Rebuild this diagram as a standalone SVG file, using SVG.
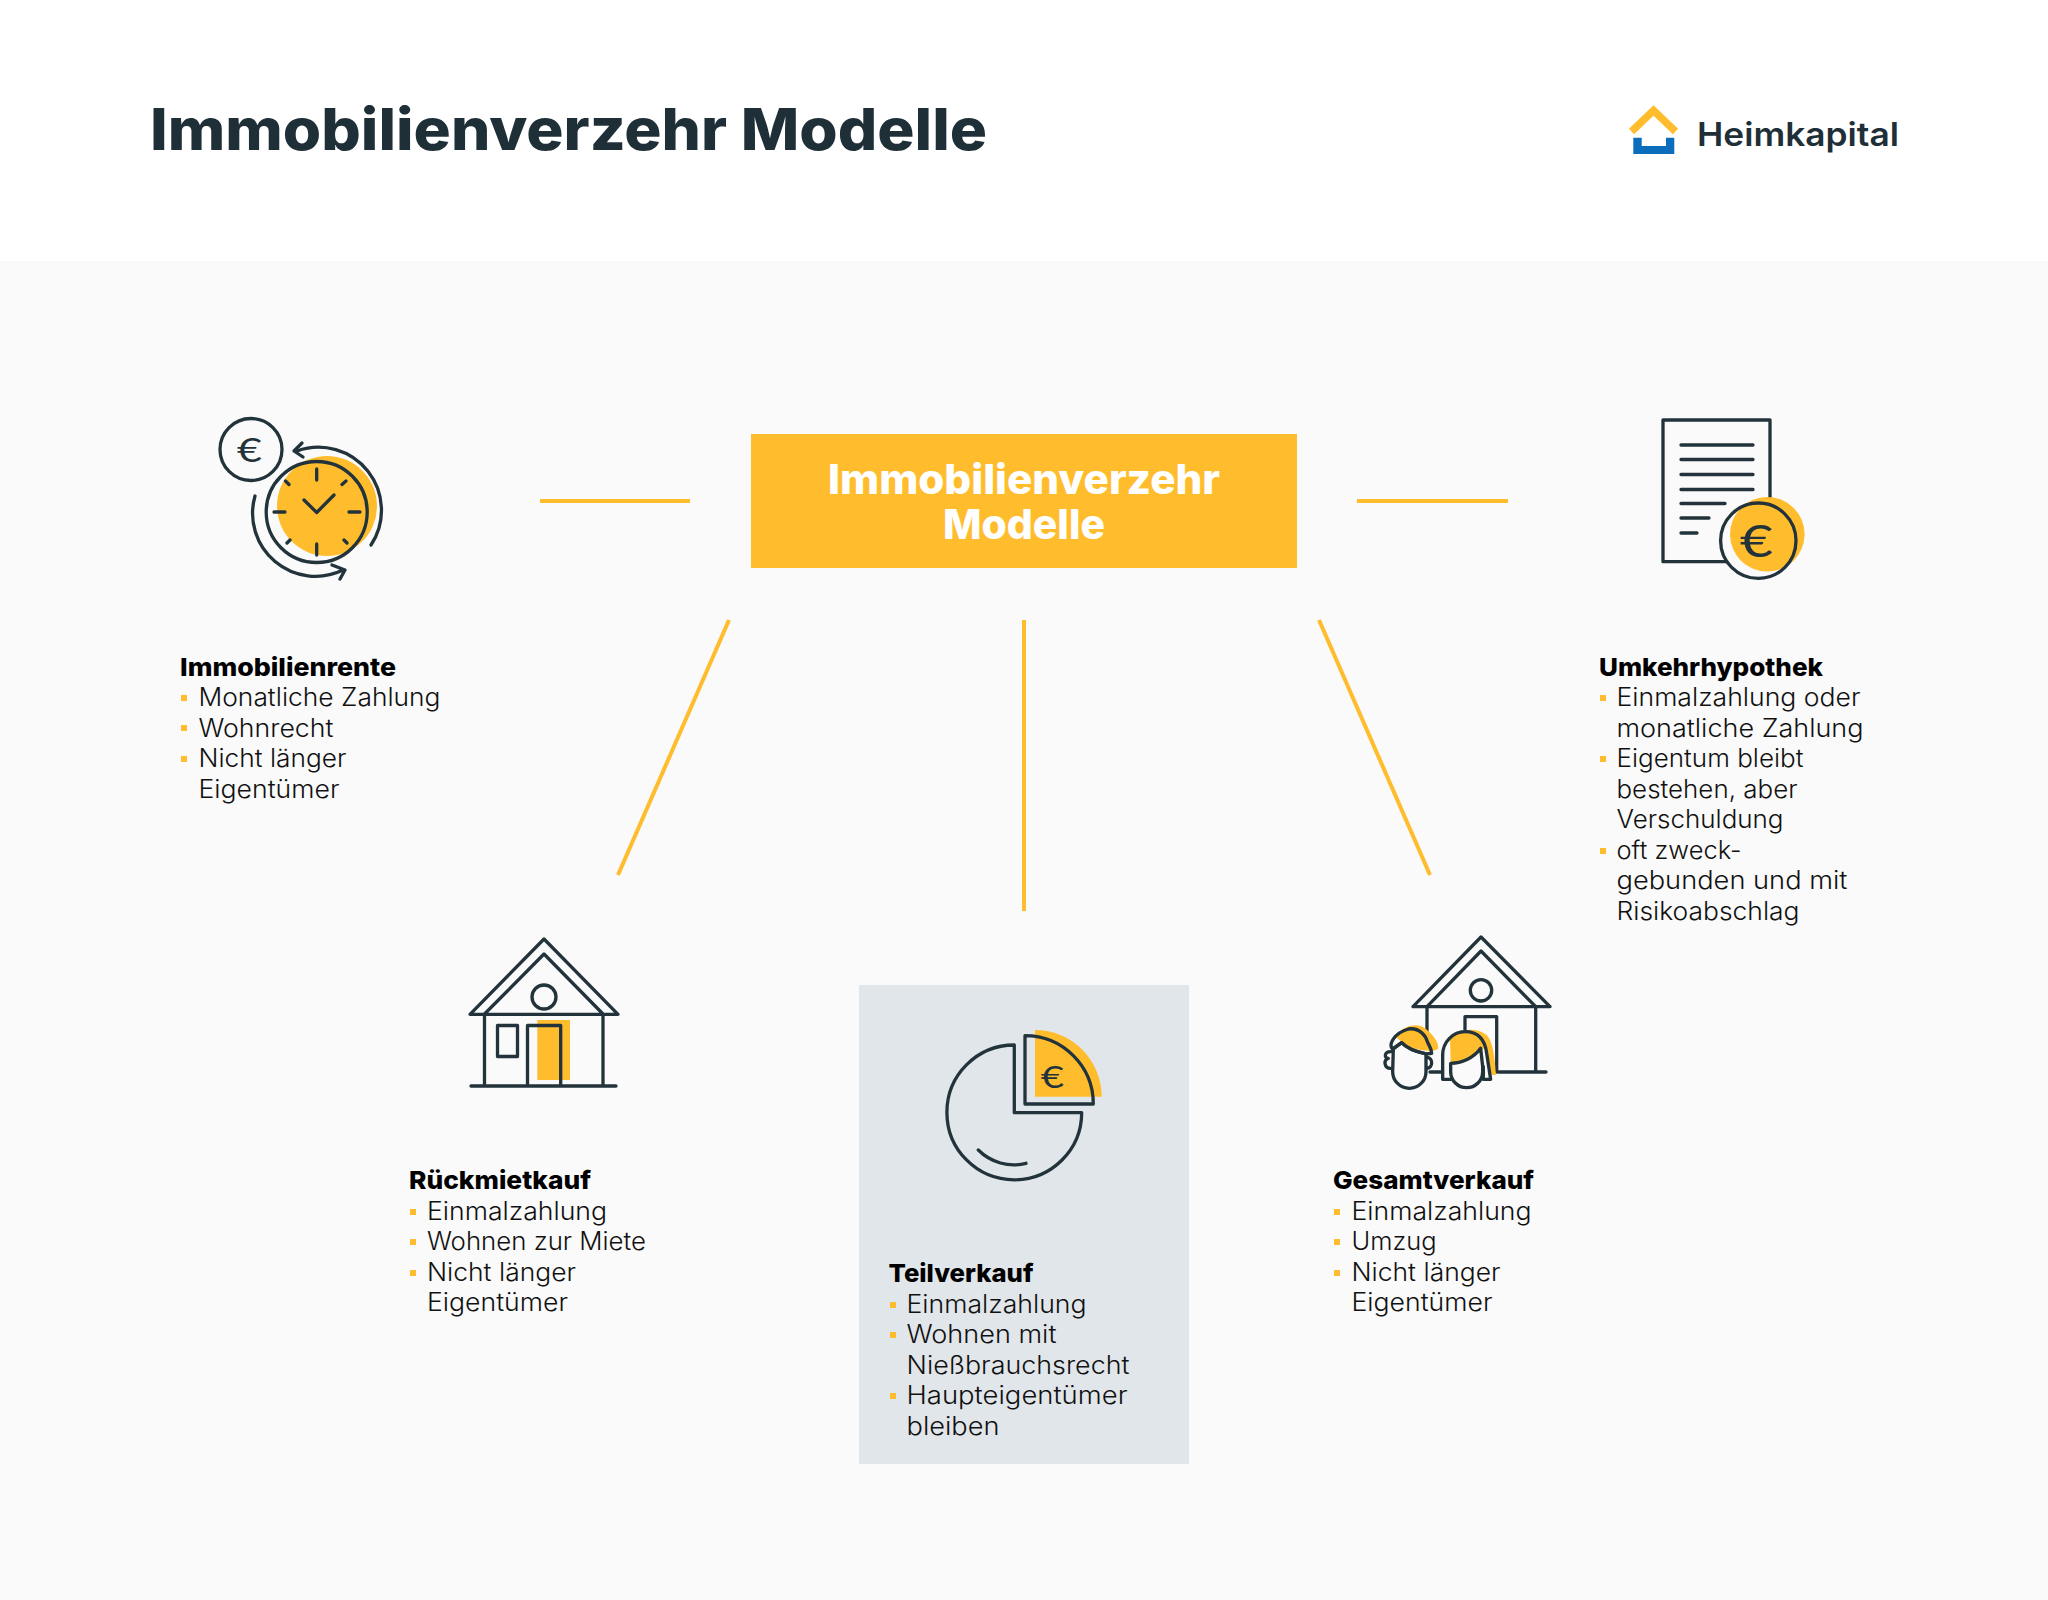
<svg xmlns="http://www.w3.org/2000/svg" width="2048" height="1600" viewBox="0 0 2048 1600">
<style>
text{font-family:"Inter","Liberation Sans",sans-serif;fill:#111}
.h{font-size:25px;font-weight:800;fill:#000}
.b{font-size:25px;font-weight:300}
.t{font-size:58px;font-weight:800;fill:#1f2f38}
.w{font-size:41px;font-weight:800;fill:#fff;text-anchor:middle}
.l{font-size:33px;font-weight:600;fill:#1f2f38}
.e{font-family:"Lato","Liberation Sans",sans-serif;fill:#22333b;text-anchor:middle}
.i{fill:none;stroke:#22333b;stroke-width:3.3;stroke-linecap:round;stroke-linejoin:round}
.p{stroke:#22333b;stroke-width:10;stroke-linejoin:round;stroke-linecap:round}
.y{fill:#ffbd2e}
.c{fill:none;stroke:#ffbd2e;stroke-width:4}
</style>
<defs><rect id="bu" x="-3" y="-3" width="6" height="6" fill="#ffbd2e"/></defs>
<rect width="2048" height="1600" fill="#fff"/>
<rect y="261" width="2048" height="1339" fill="#fafafa"/>
<g id="title"><text class="t" x="150" y="150" textLength="837" lengthAdjust="spacingAndGlyphs">Immobilienverzehr Modelle</text></g>
<g id="logo">
<path d="M1631.500 131.500L1653.500 110.500L1675.500 131.500" fill="none" stroke="#ffbd2e" stroke-width="7.500"/>
<path d="M1633.300 137.700H1641.700V146H1666V137.700H1674.300V154H1633.300Z" fill="#0a6ebd"/>
<text class="l" x="1697" y="146" textLength="202" lengthAdjust="spacingAndGlyphs">Heimkapital</text>
</g>
<g id="connectors">
<line class="c" x1="540" y1="501" x2="690" y2="501"/>
<line class="c" x1="1357" y1="501" x2="1508" y2="501"/>
<line class="c" x1="729" y1="620" x2="618" y2="875"/>
<line class="c" x1="1024" y1="620" x2="1024" y2="911"/>
<line class="c" x1="1319" y1="620" x2="1430" y2="875"/>
</g>
<g id="center">
<rect x="751" y="434" width="546" height="134" fill="#ffbd2e"/>
<text class="w" x="1024" y="494" textLength="392" lengthAdjust="spacingAndGlyphs">Immobilienverzehr</text>
<text class="w" x="1024" y="539" textLength="162" lengthAdjust="spacingAndGlyphs">Modelle</text>
</g>
<g id="immobilienrente">
<circle class="y" cx="327" cy="506" r="50"/>
<circle class="i" cx="251" cy="449.500" r="31"/>
<text class="e" transform="translate(249.500 462) scale(1.3 1)" font-size="33">€</text>
<circle class="i" cx="316.700" cy="512" r="50.500"/>
<path class="i" d="M316.700 469V480M316.700 544V555M274 512H285M349 512H360M285.500 481L289 484.500M346 481L342 484.500M287 543L290 540M344 540L347 543M304 500L316.700 512.500L334 495"/>
<path class="i" d="M297 451A63 63 0 0 1 371 545"/>
<path class="i" d="M302 443L294 451L303 457"/>
<path class="i" d="M255 496A63 63 0 0 0 343 570M332 565L345 570L340 579"/>
<text class="h" x="180" y="676" textLength="216" lengthAdjust="spacingAndGlyphs">Immobilienrente</text>
<use href="#bu" x="184" y="698"/><text class="b" x="198.500" y="706" textLength="242" lengthAdjust="spacingAndGlyphs">Monatliche Zahlung</text>
<use href="#bu" x="184" y="728"/><text class="b" x="198.500" y="737" textLength="135" lengthAdjust="spacingAndGlyphs">Wohnrecht</text>
<use href="#bu" x="184" y="759"/><text class="b" x="198.500" y="767" textLength="148" lengthAdjust="spacingAndGlyphs">Nicht länger</text>
<text class="b" x="198.500" y="798" textLength="141" lengthAdjust="spacingAndGlyphs">Eigentümer</text>
</g>
<g id="umkehrhypothek">
<path class="i" d="M1770 503V420H1663V561.700H1727"/>
<path class="i" d="M1681 445H1753M1681 459.500H1753M1681 474.500H1753M1681 489.500H1753M1681 503.500H1725M1681 518H1709M1681 533H1697"/>
<circle class="y" cx="1767.300" cy="534.300" r="37.300"/>
<circle class="i" cx="1758.300" cy="540.700" r="37.700"/>
<text class="e" transform="translate(1756.500 557) scale(1.3 1)" font-size="44">€</text>
<text class="h" x="1599" y="676" textLength="224" lengthAdjust="spacingAndGlyphs">Umkehrhypothek</text>
<use href="#bu" x="1603" y="698"/><text class="b" x="1616.500" y="706" textLength="244" lengthAdjust="spacingAndGlyphs">Einmalzahlung oder</text>
<text class="b" x="1616.500" y="737" textLength="247" lengthAdjust="spacingAndGlyphs">monatliche Zahlung</text>
<use href="#bu" x="1603" y="759"/><text class="b" x="1616.500" y="767" textLength="187" lengthAdjust="spacingAndGlyphs">Eigentum bleibt</text>
<text class="b" x="1616.500" y="798" textLength="181" lengthAdjust="spacingAndGlyphs">bestehen, aber</text>
<text class="b" x="1616.500" y="828" textLength="167" lengthAdjust="spacingAndGlyphs">Verschuldung</text>
<use href="#bu" x="1603" y="851"/><text class="b" x="1616.500" y="859" textLength="125" lengthAdjust="spacingAndGlyphs">oft zweck-</text>
<text class="b" x="1616.500" y="889" textLength="231" lengthAdjust="spacingAndGlyphs">gebunden und mit</text>
<text class="b" x="1616.500" y="920" textLength="183" lengthAdjust="spacingAndGlyphs">Risikoabschlag</text>
</g>
<g id="rueckmietkauf">
<rect class="y" x="537.300" y="1020" width="32.700" height="60"/>
<path class="i" d="M470 1014.300L544 939L618 1014.300ZM484.500 1014L544 954L603 1014M484.500 1014V1086M603 1014V1086M471 1086H616M527.500 1086V1025.500H560.700V1086"/>
<rect class="i" x="497.500" y="1025.500" width="20" height="31"/>
<circle class="i" cx="544" cy="997" r="12"/>
<text class="h" x="409" y="1189" textLength="182" lengthAdjust="spacingAndGlyphs">Rückmietkauf</text>
<use href="#bu" x="413" y="1212"/><text class="b" x="427" y="1220" textLength="180" lengthAdjust="spacingAndGlyphs">Einmalzahlung</text>
<use href="#bu" x="413" y="1242"/><text class="b" x="427" y="1250" textLength="219" lengthAdjust="spacingAndGlyphs">Wohnen zur Miete</text>
<use href="#bu" x="413" y="1273"/><text class="b" x="427" y="1281" textLength="149" lengthAdjust="spacingAndGlyphs">Nicht länger</text>
<text class="b" x="427" y="1311" textLength="141" lengthAdjust="spacingAndGlyphs">Eigentümer</text>
</g>
<g id="teilverkauf">
<rect x="859" y="985" width="330" height="479" fill="#e1e6ea"/>
<path class="y" d="M1035 1030A66.700 66.700 0 0 1 1101.700 1096.700H1035Z"/>
<path class="i" d="M1014.300 1045V1112.700H1081.700A67.400 67.400 0 1 1 1014.300 1045Z"/>
<path class="i" d="M978.300 1150A50 50 0 0 0 1026 1163.300"/>
<path class="i" d="M1025 1104V1035.700A68.300 68.300 0 0 1 1093.300 1104Z"/>
<text class="e" transform="translate(1052.500 1087.500) scale(1.3 1)" font-size="31">€</text>
<text class="h" x="888.500" y="1282" textLength="145" lengthAdjust="spacingAndGlyphs">Teilverkauf</text>
<use href="#bu" x="893" y="1305"/><text class="b" x="906.500" y="1313" textLength="180" lengthAdjust="spacingAndGlyphs">Einmalzahlung</text>
<use href="#bu" x="893" y="1335"/><text class="b" x="906.500" y="1343" textLength="150" lengthAdjust="spacingAndGlyphs">Wohnen mit</text>
<text class="b" x="906.500" y="1374" textLength="223" lengthAdjust="spacingAndGlyphs">Nießbrauchsrecht</text>
<use href="#bu" x="893" y="1396"/><text class="b" x="906.500" y="1404" textLength="221" lengthAdjust="spacingAndGlyphs">Haupteigentümer</text>
<text class="b" x="906.500" y="1435" textLength="93" lengthAdjust="spacingAndGlyphs">bleiben</text>
</g>
<g id="gesamtverkauf">
<path class="i" d="M1413 1006.700L1481 937L1550 1006.700ZM1427 1006.700L1481 951L1535.700 1006.700M1427 1006.700V1040M1535.700 1006.700V1072M1430 1072H1441.700M1498 1072H1546M1465 1030V1016.700H1496.700V1072"/>
<circle class="i" cx="1481" cy="990.300" r="10.700"/>
<g transform="translate(1370 920) scale(0.3333)">
<path class="y" d="M75 350C95 320 140 305 165 325C190 345 205 365 205 385C195 400 150 390 125 385L95 365Z"/>
<path d="M70 385L95 368C115 390 150 398 168 402V455A50 50 0 0 1 68 455Z" fill="#fafafa" class="p"/>
<path d="M68 388C55 375 70 340 115 327C150 322 168 350 172 365C178 380 185 385 185 400L168 402C150 398 115 390 95 368Z" fill="none" class="p"/>
<path d="M62 395C42 395 42 415 55 415C40 420 42 445 62 445M170 412C190 412 190 445 170 445" fill="none" class="p"/>
<path d="M240 478V440L330 385L345 478H340Z" fill="#fafafa"/>
<path class="y" d="M240 355C265 325 320 320 350 345C370 365 375 420 378 465H365L345 380C325 410 280 425 250 430L255 465H243Z"/>
<path d="M242 430C275 430 310 415 332 385L338 440V455A48 48 0 0 1 242 455Z" fill="#fafafa" class="p"/>
<path d="M218 478V405C218 365 250 335 285 335C325 335 345 360 350 400L362 478H340V440M242 478H218" fill="none" class="p"/>
</g>
<text class="h" x="1333" y="1189" textLength="201" lengthAdjust="spacingAndGlyphs">Gesamtverkauf</text>
<use href="#bu" x="1337" y="1212"/><text class="b" x="1351.500" y="1220" textLength="180" lengthAdjust="spacingAndGlyphs">Einmalzahlung</text>
<use href="#bu" x="1337" y="1242"/><text class="b" x="1351.500" y="1250" textLength="85" lengthAdjust="spacingAndGlyphs">Umzug</text>
<use href="#bu" x="1337" y="1273"/><text class="b" x="1351.500" y="1281" textLength="149" lengthAdjust="spacingAndGlyphs">Nicht länger</text>
<text class="b" x="1351.500" y="1311" textLength="141" lengthAdjust="spacingAndGlyphs">Eigentümer</text>
</g>
</svg>
